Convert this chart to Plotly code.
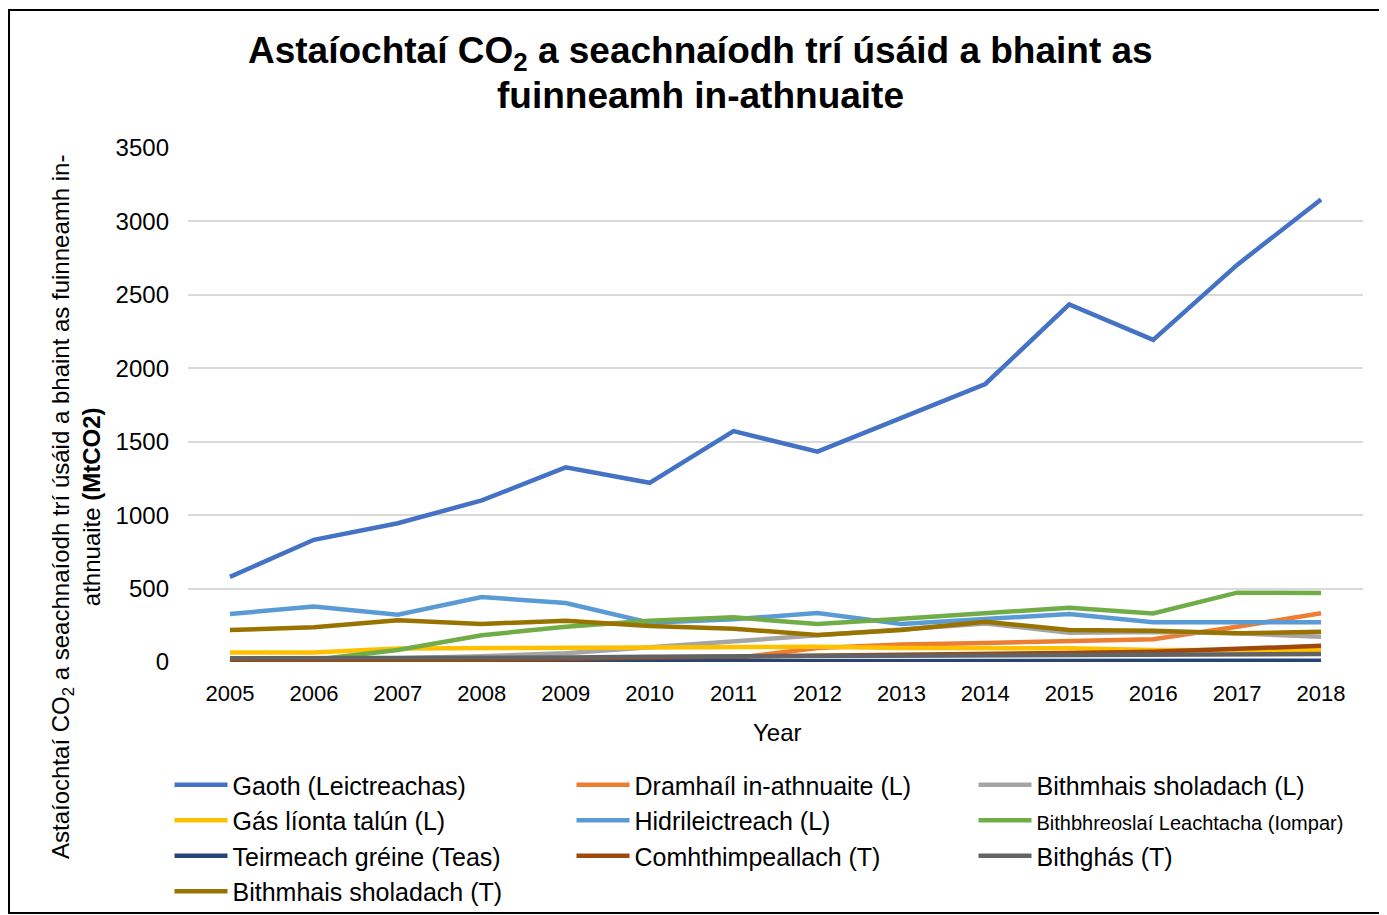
import plotly.graph_objects as go

years = list(range(2005, 2019))

gaoth = [580, 832, 945, 1100, 1325, 1220, 1572, 1432, 1662, 1893, 2435, 2193, 2704, 3150]
dramhail = [0, 0, 2, 4, 6, 10, 25, 95, 120, 130, 140, 155, 240, 332]
bithmhais_l = [20, 22, 25, 40, 60, 100, 140, 175, 215, 262, 200, 205, 195, 172]
gas = [64, 64, 92, 95, 97, 104, 104, 104, 95, 95, 93, 82, 80, 80]
hidri = [327, 378, 322, 442, 402, 268, 291, 333, 259, 291, 327, 270, 270, 270]
bithbhreo = [12, 15, 82, 182, 240, 281, 304, 258, 295, 331, 370, 331, 472, 470]
teirmeach = [1, 2, 3, 4, 5, 6, 6, 7, 7, 8, 8, 8, 9, 9]
comhthimp = [5, 8, 10, 15, 20, 30, 35, 40, 45, 55, 62, 70, 90, 110]
bithghas = [25, 25, 25, 28, 30, 35, 38, 40, 40, 45, 45, 50, 52, 55]
bithmhais_t = [218, 236, 284, 259, 281, 245, 227, 184, 218, 274, 218, 213, 195, 206]

names = [
    "Gaoth (Leictreachas)",
    "Dramhaíl in-athnuaite (L)",
    "Bithmhais sholadach (L)",
    "Gás líonta talún (L)",
    "Hidrileictreach (L)",
    "<span style=\"font-size:20px\">Bithbhreoslaí Leachtacha (Iompar)</span>",
    "Teirmeach gréine (Teas)",
    "Comhthimpeallach (T)",
    "Bithghás (T)",
    "Bithmhais sholadach (T)",
]
series = [gaoth, dramhail, bithmhais_l, gas, hidri, bithbhreo, teirmeach, comhthimp, bithghas, bithmhais_t]
colors = ["#4472C4", "#ED7D31", "#A5A5A5", "#FFC000", "#5B9BD5", "#70AD47",
          "#264478", "#9E480E", "#636363", "#997300"]

# page body margin offset (div starts at 8,8 on the screen)
OFF = 8
FW, FH = 1387 - OFF, 915 - OFF
# plot area in screen pixels
L, R, T, B = 188, 1363, 148, 662
W, H = R - L, B - T


def px(x):
    return (x - L) / W


def py(y):
    return (B - y) / H


fig = go.Figure()
for n, s, c in zip(names, series, colors):
    fig.add_trace(go.Scatter(x=years, y=s, name=n, mode="lines",
                             line=dict(color=c, width=4.5)))

fig.update_layout(
    width=FW, height=FH,
    margin=dict(l=L - OFF, r=FW - (R - OFF), t=T - OFF, b=FH - (B - OFF), autoexpand=False),
    paper_bgcolor="white", plot_bgcolor="white",
    font=dict(family="Liberation Sans, Arial, sans-serif", color="black"),
    xaxis=dict(range=[2004.5, 2018.5], tickvals=years, ticktext=[str(y) for y in years],
               showgrid=False, showline=False, zeroline=False, ticks="",
               tickfont=dict(size=22, color="black"), ticklabelstandoff=16),
    yaxis=dict(range=[0, 3500], dtick=500, showgrid=True, gridcolor="#D9D9D9", gridwidth=1.5,
               zeroline=False, showline=False, ticks="",
               tickfont=dict(size=24, color="black"), ticklabelstandoff=18),
    legend=dict(orientation="h", x=px(169.5), xanchor="left", y=py(762), yanchor="top",
                entrywidth=334, entrywidthmode="pixels", traceorder="normal",
                font=dict(size=25, color="black"), tracegroupgap=0,
                itemwidth=53, bgcolor="rgba(0,0,0,0)"),
    showlegend=True,
)

# Title (two lines)
fig.add_annotation(text="<b>Astaíochtaí CO<sub>2</sub> a seachnaíodh trí úsáid a bhaint as</b>",
                   xref="paper", yref="paper", x=px(700), y=py(53),
                   xanchor="center", yanchor="middle", showarrow=False,
                   font=dict(size=37, color="black"))
fig.add_annotation(text="<b>fuinneamh in-athnuaite</b>",
                   xref="paper", yref="paper", x=px(700), y=py(96),
                   xanchor="center", yanchor="middle", showarrow=False,
                   font=dict(size=37, color="black"))

# X-axis title
fig.add_annotation(text="Year", xref="paper", yref="paper", x=px(777), y=py(732),
                   xanchor="center", yanchor="middle", showarrow=False,
                   font=dict(size=24, color="black"))

# Y-axis title as annotation
fig.add_annotation(
    text="Astaíochtaí CO<sub>2</sub> a seachnaíodh trí úsáid a bhaint as fuinneamh in-<br>athnuaite <b>(MtCO2)</b>",
    xref="paper", yref="paper", x=px(76), y=py(507),
    xanchor="center", yanchor="middle", textangle=-90, showarrow=False,
    font=dict(size=24, color="black"))

# Outer border
fig.add_shape(type="rect", xref="paper", yref="paper",
              x0=px(9), x1=px(1385), y0=py(913), y1=py(10),
              line=dict(color="black", width=2), fillcolor="rgba(0,0,0,0)", layer="above")

fig.write_html("out.html")
